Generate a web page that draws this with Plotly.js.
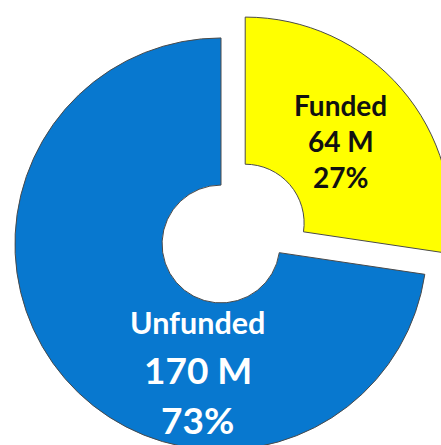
<!DOCTYPE html>
<html>
<head>
<meta charset="utf-8">
<script src="https://cdn.plot.ly/plotly-3.0.1.min.js"></script>
<style>
  html, body { margin: 0; padding: 0; width: 441px; height: 445px; overflow: hidden; background: #fff; }
  #chart { position: absolute; left: -17px; top: 6px; width: 476px; height: 476px; }
</style>
</head>
<body>
<div id="chart"></div>
<script>
const categories = ["Funded", "Unfunded"];
const values = [64, 170];
const units = " M";
const sliceColors = ["#FFFF00", "#0878CF"];
const textColors = ["#111111", "#FFFFFF"];

const total = values.reduce((a, b) => a + b, 0);
const pcts = values.map(v => Math.round(v / total * 100));

// label anchor points (paper fractions) and font sizes per line
const labelPos = [
  { x: 0.752, ys: [0.791, 0.716, 0.640], sizes: [28, 28, 28] },
  { x: 0.451, ys: [0.336, 0.237, 0.132], sizes: [30.5, 37, 37] }
];

const annotations = [];
categories.forEach((c, i) => {
  const lines = [c, values[i] + units, pcts[i] + "%"];
  lines.forEach((t, j) => {
    annotations.push({
      text: t, xref: "paper", yref: "paper",
      x: labelPos[i].x, y: labelPos[i].ys[j],
      xanchor: "center", yanchor: "middle", showarrow: false,
      font: { family: "Lato", weight: "bold", size: labelPos[i].sizes[j], color: textColors[i] }
    });
  });
});

const trace = {
  type: "pie",
  labels: categories,
  values: values,
  sort: false,
  direction: "clockwise",
  rotation: 0,
  hole: 0.286,
  pull: [0.155, 0],
  textinfo: "none",
  marker: { colors: sliceColors, line: { color: "#4a4a4a", width: 1 } },
  domain: { x: [0, 1], y: [0, 1] },
  hoverinfo: "none"
};

Plotly.newPlot("chart", [trace], {
  width: 476, height: 476,
  margin: { l: 0, r: 0, t: 0, b: 0 },
  showlegend: false,
  paper_bgcolor: "rgba(0,0,0,0)",
  annotations: annotations
}, { staticPlot: true });
</script>
</body>
</html>
